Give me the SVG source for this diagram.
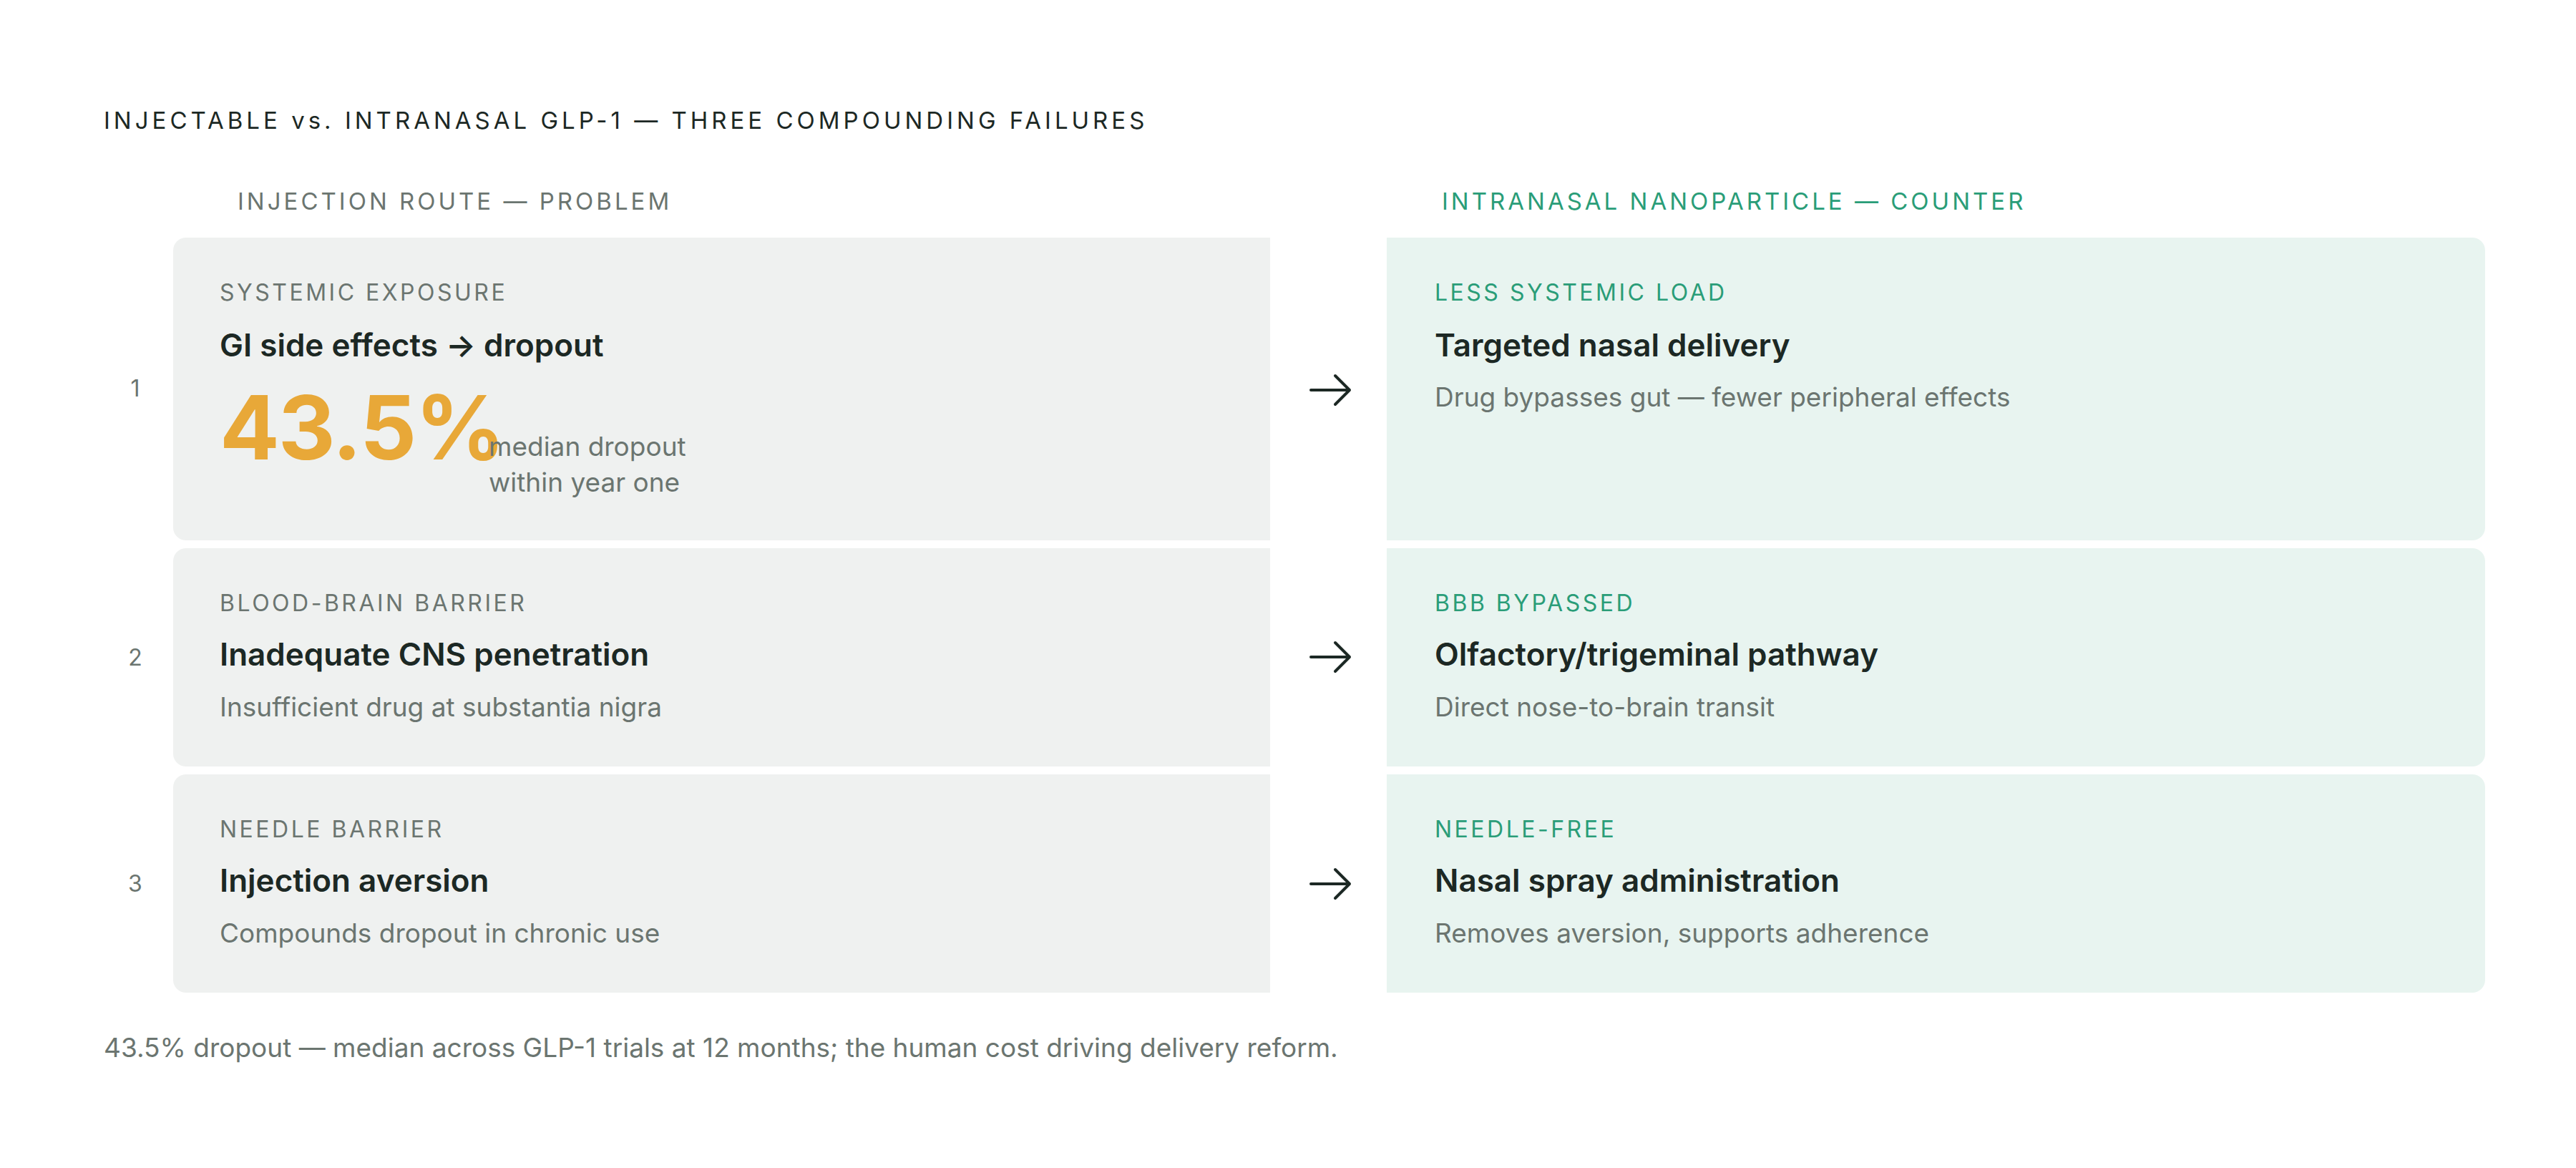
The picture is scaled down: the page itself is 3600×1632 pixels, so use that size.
<svg xmlns="http://www.w3.org/2000/svg" width="3600" height="1632" viewBox="0 0 3600 1632">
<style>
.t{font-family:Inter,"Liberation Sans",sans-serif}
.title{font-size:33px;letter-spacing:5px;fill:#1c2824}
.hd{font-size:33px;letter-spacing:4px}
.lab{font-size:32px;letter-spacing:3.5px}
.g{fill:#6b7570}.gr{fill:#2a9d78}
.h{font-size:44px;font-weight:600;fill:#1c2824}
.s{font-size:37px;fill:#6b7570}
.n{font-size:32px;fill:#6b7570}
.L{fill:#eff1f0}.R{fill:#e8f4f0}
.a{stroke:#1c2824;stroke-width:4;fill:none;stroke-linecap:round;stroke-linejoin:round}
</style>
<rect width="3600" height="1632" fill="#fff"/>
<text class="t title" x="145" y="180">INJECTABLE vs. INTRANASAL GLP-1 — THREE COMPOUNDING FAILURES</text>
<text class="t hd g" x="332" y="293">INJECTION ROUTE — PROBLEM</text>
<text class="t hd gr" x="2015" y="293">INTRANASAL NANOPARTICLE — COUNTER</text>
<g id="row1">
<path class="L" d="M260 332H1775V755H260A18 18 0 0 1 242 737V350A18 18 0 0 1 260 332Z"/>
<text class="t n" x="189" y="554" text-anchor="middle">1</text>
<text class="t lab g" x="307" y="420">SYSTEMIC EXPOSURE</text>
<text class="t h" x="307" y="498">GI side effects → dropout</text>
<text class="t" x="307" y="642" font-size="124" font-weight="700" fill="#e8a838" letter-spacing="-2">43.5%</text>
<text class="t s" x="683" y="637">median dropout</text>
<text class="t s" x="683" y="687">within year one</text>
</g>
<g id="counter1">
<path class="R" d="M1938 332H3455A18 18 0 0 1 3473 350V737A18 18 0 0 1 3455 755H1938Z"/>
<text class="t lab gr" x="2005" y="420">LESS SYSTEMIC LOAD</text>
<text class="t h" x="2005" y="498">Targeted nasal delivery</text>
<text class="t s" x="2005" y="568">Drug bypasses gut — fewer peripheral effects</text>
</g>
<g id="row2">
<path class="L" d="M260 766H1775V1071H260A18 18 0 0 1 242 1053V784A18 18 0 0 1 260 766Z"/>
<text class="t n" x="189" y="930" text-anchor="middle">2</text>
<text class="t lab g" x="307" y="854">BLOOD-BRAIN BARRIER</text>
<text class="t h" x="307" y="930">Inadequate CNS penetration</text>
<text class="t s" x="307" y="1001">Insufficient drug at substantia nigra</text>
</g>
<g id="counter2">
<path class="R" d="M1938 766H3455A18 18 0 0 1 3473 784V1053A18 18 0 0 1 3455 1071H1938Z"/>
<text class="t lab gr" x="2005" y="854">BBB BYPASSED</text>
<text class="t h" x="2005" y="930">Olfactory/trigeminal pathway</text>
<text class="t s" x="2005" y="1001">Direct nose-to-brain transit</text>
</g>
<g id="row3">
<path class="L" d="M260 1082H1775V1387H260A18 18 0 0 1 242 1369V1100A18 18 0 0 1 260 1082Z"/>
<text class="t n" x="189" y="1246" text-anchor="middle">3</text>
<text class="t lab g" x="307" y="1170">NEEDLE BARRIER</text>
<text class="t h" x="307" y="1246">Injection aversion</text>
<text class="t s" x="307" y="1317">Compounds dropout in chronic use</text>
</g>
<g id="counter3">
<path class="R" d="M1938 1082H3455A18 18 0 0 1 3473 1100V1369A18 18 0 0 1 3455 1387H1938Z"/>
<text class="t lab gr" x="2005" y="1170">NEEDLE-FREE</text>
<text class="t h" x="2005" y="1246">Nasal spray administration</text>
<text class="t s" x="2005" y="1317">Removes aversion, supports adherence</text>
</g>
<g id="connectors">
<path class="a" d="M1832 545H1886M1866 525L1886 545L1866 565"/>
<path class="a" d="M1832 918H1886M1866 898L1886 918L1866 938"/>
<path class="a" d="M1832 1235H1886M1866 1215L1886 1235L1866 1255"/>
</g>
<text class="t s" x="145" y="1477" font-size="35">43.5% dropout — median across GLP-1 trials at 12 months; the human cost driving delivery reform.</text>
</svg>
